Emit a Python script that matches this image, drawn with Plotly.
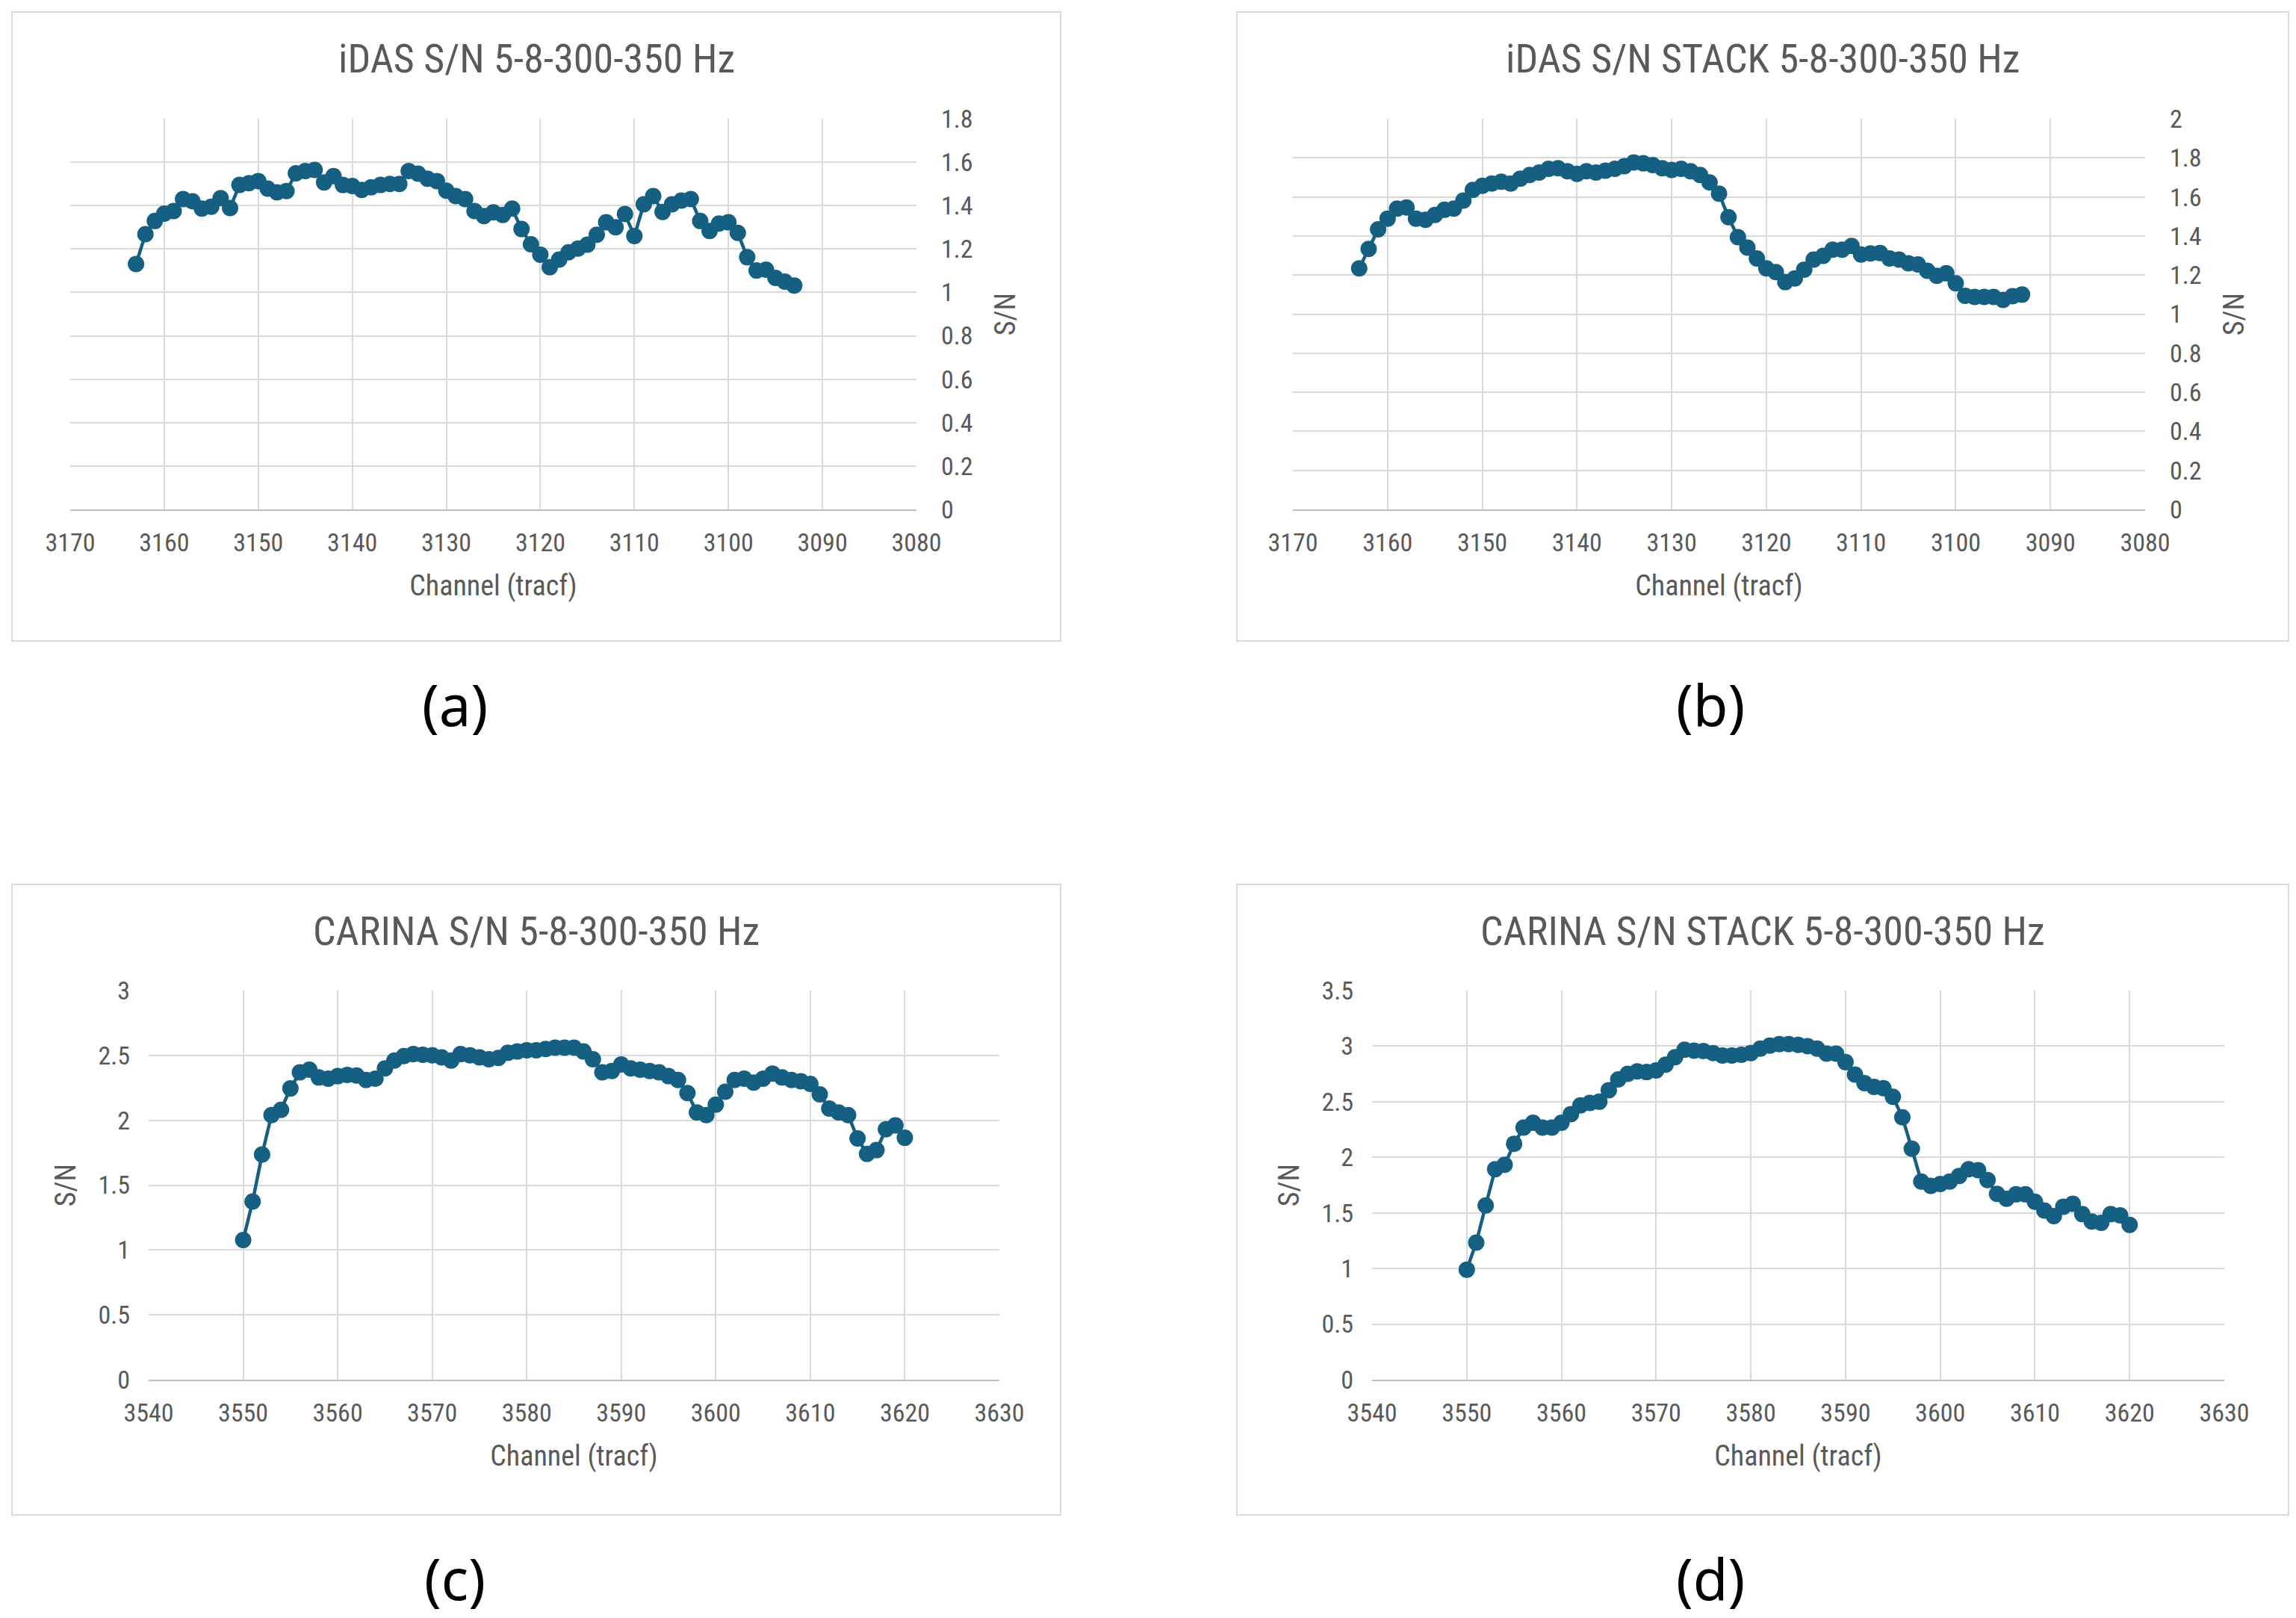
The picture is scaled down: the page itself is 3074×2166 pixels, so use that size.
import plotly.graph_objects as go

# ---------------- data ----------------
idas_channels = list(range(3163, 3092, -1))
idas_sn = [1.131, 1.268, 1.329, 1.363, 1.375, 1.43, 1.42, 1.386, 1.395, 1.434,
           1.389, 1.495, 1.503, 1.513, 1.478, 1.461, 1.467, 1.549, 1.559, 1.564,
           1.507, 1.536, 1.495, 1.49, 1.472, 1.484, 1.495, 1.50, 1.50, 1.559,
           1.547, 1.524, 1.513, 1.469, 1.444, 1.43, 1.375, 1.352, 1.369, 1.357,
           1.386, 1.292, 1.222, 1.174, 1.116, 1.151, 1.185, 1.202, 1.22, 1.266,
           1.323, 1.30, 1.361, 1.26, 1.406, 1.444, 1.371, 1.406, 1.423, 1.43,
           1.329, 1.283, 1.317, 1.323, 1.274, 1.162, 1.101, 1.105, 1.067, 1.05,
           1.032]

idas_stack_channels = list(range(3163, 3092, -1))
idas_stack_sn = [1.234, 1.334, 1.434, 1.489, 1.54, 1.546, 1.489, 1.483, 1.508, 1.534,
                 1.54, 1.581, 1.636, 1.657, 1.668, 1.678, 1.668, 1.693, 1.712, 1.725,
                 1.744, 1.747, 1.731, 1.718, 1.731, 1.725, 1.734, 1.744, 1.757, 1.776,
                 1.772, 1.763, 1.747, 1.738, 1.744, 1.731, 1.712, 1.674, 1.617, 1.496,
                 1.394, 1.340, 1.285, 1.234, 1.215, 1.164, 1.183, 1.228, 1.279, 1.298,
                 1.33, 1.33, 1.349, 1.305, 1.311, 1.313, 1.285, 1.279, 1.26, 1.254,
                 1.222, 1.196, 1.209, 1.158, 1.094, 1.088, 1.088, 1.088, 1.073, 1.092,
                 1.10]

carina_channels = list(range(3550, 3621))
carina_sn = [1.077, 1.373, 1.736, 2.04, 2.08, 2.245, 2.37, 2.39, 2.33, 2.32,
             2.34, 2.35, 2.345, 2.31, 2.32, 2.40, 2.46, 2.495, 2.51, 2.505,
             2.50, 2.485, 2.46, 2.51, 2.50, 2.485, 2.47, 2.48, 2.52, 2.53,
             2.54, 2.54, 2.55, 2.56, 2.56, 2.56, 2.53, 2.47, 2.37, 2.38,
             2.43, 2.40, 2.39, 2.38, 2.37, 2.34, 2.31, 2.21, 2.06, 2.04,
             2.12, 2.22, 2.31, 2.32, 2.29, 2.32, 2.36, 2.33, 2.31, 2.30,
             2.28, 2.20, 2.09, 2.06, 2.04, 1.86, 1.74, 1.77, 1.93, 1.96,
             1.865]

carina_stack_channels = list(range(3550, 3621))
carina_stack_sn = [0.99, 1.233, 1.567, 1.893, 1.933, 2.122, 2.267, 2.311, 2.267, 2.267,
                   2.311, 2.389, 2.467, 2.489, 2.50, 2.604, 2.70, 2.751, 2.773, 2.767,
                   2.782, 2.833, 2.90, 2.967, 2.96, 2.956, 2.938, 2.916, 2.916, 2.922,
                   2.938, 2.978, 3.004, 3.018, 3.018, 3.011, 3.0, 2.978, 2.933, 2.933,
                   2.856, 2.744, 2.667, 2.633, 2.622, 2.544, 2.36, 2.078, 1.782, 1.744,
                   1.76, 1.782, 1.833, 1.893, 1.884, 1.796, 1.671, 1.627, 1.667, 1.667,
                   1.60, 1.522, 1.471, 1.556, 1.582, 1.489, 1.422, 1.411, 1.489, 1.478,
                   1.393]

titles = ["iDAS S/N 5-8-300-350 Hz", "iDAS S/N STACK 5-8-300-350 Hz",
          "CARINA S/N 5-8-300-350 Hz", "CARINA S/N STACK 5-8-300-350 Hz"]
panel_labels = ["(a)", "(b)", "(c)", "(d)"]
x_ranges = [[3170, 3080], [3170, 3080], [3540, 3630], [3540, 3630]]
y_ranges = [[0, 1.8], [0, 2.0], [0, 3.0], [0, 3.5]]
y_dticks = [0.2, 0.2, 0.5, 0.5]
x_title = "Channel (tracf)"
y_title = "S/N"

# ---------------- layout geometry (pixels) ----------------
W, H = 3074, 2166
plot_boxes = [(94, 1227, 159, 682), (1731, 2872, 159, 682),
              (199, 1338, 1326, 1847), (1837, 2978, 1326, 1847)]
chart_boxes = [(16, 1420, 16, 858), (1656, 3064, 16, 858),
               (16, 1420, 1184, 2028), (1656, 3064, 1184, 2028)]
title_pos = [(718, 79), (2360, 79), (718, 1246), (2360, 1246)]
label_pos = [(609, 943), (2290, 943), (609, 2112), (2290, 2112)]
y_sides = ["right", "right", "left", "left"]
y_title_standoff = [30, 30, 18, 18]

COLOR = "#156082"
TXT = "#595959"
FONT = "Liberation Sans Narrow, Arial Narrow, Roboto Condensed, Roboto, sans-serif"

series = [(idas_channels, idas_sn), (idas_stack_channels, idas_stack_sn),
          (carina_channels, carina_sn), (carina_stack_channels, carina_stack_sn)]

fig = go.Figure()
shapes = []
annotations = []
layout_axes = {}

for i, (xs, ys) in enumerate(series):
    n = "" if i == 0 else str(i + 1)
    fig.add_trace(go.Scatter(
        x=xs, y=ys, mode="lines+markers",
        line=dict(color=COLOR, width=4.5),
        marker=dict(color=COLOR, size=22),
        xaxis="x" + n, yaxis="y" + n, showlegend=False, hoverinfo="x+y"))
    x0, x1, y0, y1 = plot_boxes[i]
    layout_axes["xaxis" + n] = dict(
        domain=[x0 / W, x1 / W], anchor="y" + n, range=x_ranges[i], dtick=10,
        showgrid=True, gridcolor="#d9d9d9", gridwidth=2,
        showline=True, linecolor="#bfbfbf", linewidth=2,
        zeroline=False, ticks="", ticklabelstandoff=13, automargin=False,
        tickfont=dict(family=FONT, size=34, color=TXT),
        title=dict(text=x_title, standoff=26,
                   font=dict(family=FONT, size=38, color=TXT)))
    layout_axes["yaxis" + n] = dict(
        domain=[1 - y1 / H, 1 - y0 / H], anchor="x" + n, range=y_ranges[i],
        dtick=y_dticks[i], side=y_sides[i],
        showgrid=True, gridcolor="#d9d9d9", gridwidth=2,
        showline=False, zeroline=False, ticks="", automargin=False,
        ticklabelstandoff=32 if y_sides[i] == "right" else 24,
        tickfont=dict(family=FONT, size=34, color=TXT),
        title=dict(text=y_title, standoff=y_title_standoff[i],
                   font=dict(family=FONT, size=38, color=TXT)))
    cx0, cx1, cy0, cy1 = chart_boxes[i]
    shapes.append(dict(type="rect", xref="paper", yref="paper",
                       x0=cx0 / W, x1=cx1 / W, y0=1 - cy1 / H, y1=1 - cy0 / H,
                       line=dict(color="#d9d9d9", width=2), layer="below"))
    tx, ty = title_pos[i]
    annotations.append(dict(text=titles[i], x=tx / W, y=1 - ty / H,
                            xref="paper", yref="paper", showarrow=False,
                            xanchor="center", yanchor="middle",
                            font=dict(family=FONT, size=54, color=TXT)))
    lx, ly = label_pos[i]
    annotations.append(dict(text=panel_labels[i], x=lx / W, y=1 - ly / H,
                            xref="paper", yref="paper", showarrow=False,
                            xanchor="center", yanchor="middle",
                            font=dict(family="Noto Sans, Open Sans, sans-serif",
                                      size=76, color="#000000")))

fig.update_layout(
    width=W, height=H,
    margin=dict(l=0, r=0, t=0, b=0, pad=0, autoexpand=False),
    paper_bgcolor="white", plot_bgcolor="white",
    shapes=shapes, annotations=annotations, **layout_axes)

fig.write_html("out.html", post_script="document.body.style.margin='0px';",
               config={"displayModeBar": False})
